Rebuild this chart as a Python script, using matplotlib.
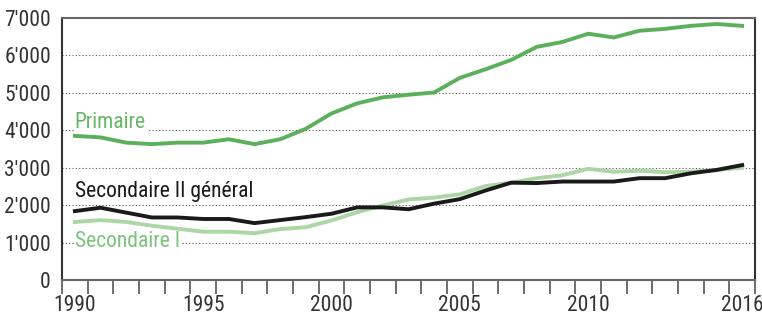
import matplotlib.pyplot as plt
from matplotlib import font_manager
import numpy as np

# pick a narrow font if one is installed
names = {f.name for f in font_manager.fontManager.ttflist}
narrow = [n for n in ['Liberation Sans Narrow', 'Roboto Condensed', 'DejaVu Sans Condensed',
                      'Open Sans Condensed'] if n in names]
if narrow:
    plt.rcParams['font.family'] = [narrow[0], 'DejaVu Sans']
    fs = 15.5
else:
    plt.rcParams['font.family'] = ['DejaVu Sans']
    plt.rcParams['font.stretch'] = 'condensed'
    fs = 12.5

years = list(range(1990, 2017))
primaire = [3850, 3810, 3670, 3630, 3670, 3670, 3760, 3630, 3760, 4040, 4450, 4720,
            4880, 4950, 5010, 5400, 5630, 5880, 6230, 6360, 6580, 6480, 6660, 6710,
            6790, 6840, 6790]
sec2_general = [1840, 1930, 1800, 1670, 1670, 1630, 1630, 1520, 1600, 1680, 1770, 1940,
                1940, 1890, 2040, 2160, 2390, 2600, 2590, 2630, 2630, 2630, 2720, 2720,
                2850, 2940, 3070]
sec1 = [1550, 1600, 1550, 1450, 1370, 1290, 1290, 1250, 1360, 1410, 1590, 1810,
        1990, 2150, 2200, 2290, 2510, 2600, 2720, 2800, 2970, 2890, 2920, 2880,
        2890, 2940, 3000]
ytick_labels = ["0", "1'000", "2'000", "3'000", "4'000", "5'000", "6'000", "7'000"]
xtick_years = [1990, 1995, 2000, 2005, 2010, 2016]

c_prim = '#5cb05c'
c_sec1 = '#acd6a6'
c_sec2 = '#1a1a1a'

fig = plt.figure(figsize=(7.62, 3.16), dpi=100)
ax = fig.add_axes([0.0814, 0.114, 0.9094, 0.829])

ax.plot(years, sec1, color=c_sec1, lw=2.8, zorder=3)
ax.plot(years, primaire, color=c_prim, lw=2.8, zorder=4)
ax.plot(years, sec2_general, color=c_sec2, lw=2.8, zorder=5)

ax.set_xlim(1989.5, 2016.5)
ax.set_ylim(0, 7000)

# y axis
ax.set_yticks(range(0, 7001, 1000))
ax.set_yticklabels(ytick_labels)
ax.tick_params(axis='y', length=0, pad=8, labelsize=fs, labelcolor='#333333')
for v in range(1000, 7000, 1000):
    ax.axhline(v, color='#555555', lw=0.8, ls=(0, (1, 2)), zorder=1)

# x axis: labels at year centres, tick marks at boundaries
ax.set_xticks(xtick_years)
ax.set_xticklabels([str(y) for y in xtick_years])
ax.set_xticks(np.arange(1989.5, 2017, 1), minor=True)
ax.tick_params(axis='x', which='major', length=0, pad=11, labelsize=fs, labelcolor='#333333')
ax.tick_params(axis='x', which='minor', length=10, width=1.2, color='#555555', direction='out')

for s in ['left', 'right']:
    ax.spines[s].set_color('#333333')
    ax.spines[s].set_linewidth(1.5)
for s in ['top', 'bottom']:
    ax.spines[s].set_color('#666666')
    ax.spines[s].set_linewidth(1.5)

box = dict(facecolor='white', edgecolor='none', pad=0.5)
ax.text(1990, 4220, 'Primaire', color='#66b866', fontsize=fs, ha='left', va='center', bbox=box, zorder=6)
ax.text(1990, 2370, 'Secondaire II général', color=c_sec2, fontsize=fs, ha='left', va='center', bbox=box, zorder=6)
ax.text(1990, 1020, 'Secondaire I', color='#7cc47c', fontsize=fs, ha='left', va='center', bbox=box, zorder=6)

fig.savefig('out.png', dpi=100)
